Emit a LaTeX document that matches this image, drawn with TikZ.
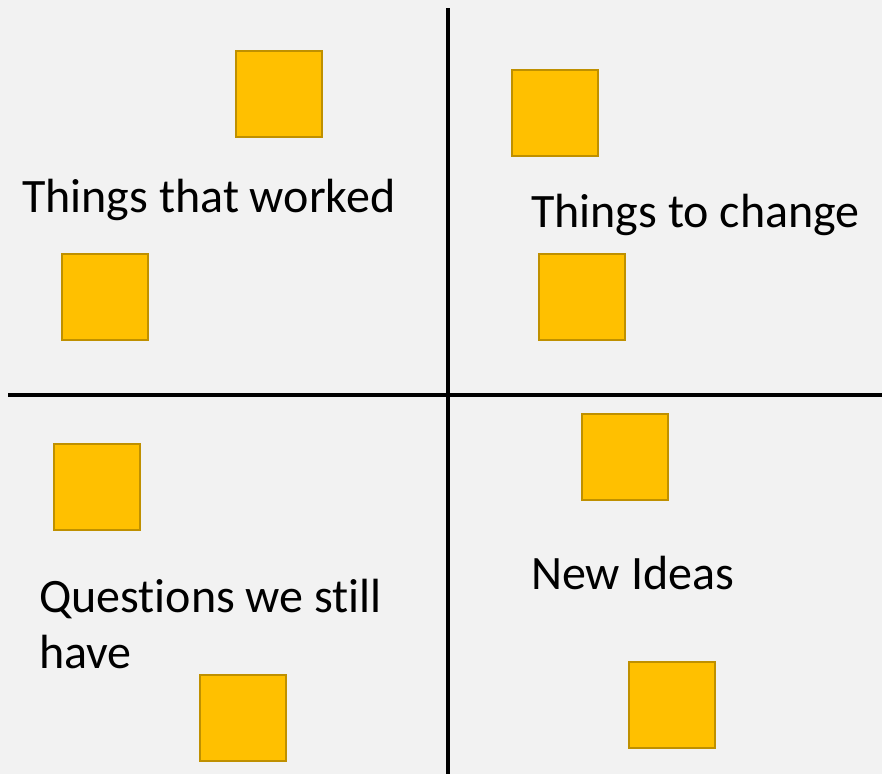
\documentclass[tikz,border=0pt]{standalone}
\usepackage{fontspec}
\setmainfont[Ligatures={NoCommon}]{Carlito}
\usepackage{xcolor}
\definecolor{board}{HTML}{F2F2F2}
\definecolor{note}{HTML}{FFC000}
\definecolor{noteedge}{HTML}{BF9000}
\tikzset{
  sticky/.style={draw=noteedge, line width=2pt, fill=note, minimum size=86pt, inner sep=0pt},
  heading/.style={anchor=west, inner sep=0pt, font=\fontsize{48}{56}\selectfont, align=left},
}

\begin{document}
\begin{tikzpicture}[x=1pt, y=-1pt]
		\fill[board] (0,0) rectangle (882,774);
		\useasboundingbox (0,0) rectangle (882,774);
		
		% quadrant lines
		\draw[line width=3.5pt] (448,8) -- (448,774);
		\draw[line width=3.5pt] (8,395) -- (882,395);
		
		% notes
		\node[sticky] (noteA) at (278.5,93.5) {};
		\node[sticky] (noteB) at (104.5,296.5) {};
		\node[sticky] (noteC) at (554.5,112.5) {};
		\node[sticky] (noteD) at (581.5,296.5) {};
		\node[sticky] (noteE) at (96.5,486.5) {};
		\node[sticky] (noteF) at (624.5,456.5) {};
		\node[sticky] (noteG) at (242.5,717.5) {};
		\node[sticky] (noteH) at (671.5,704.5) {};
		
		% labels
		\node[heading] (worked) at (22,200) {Things that worked};
		\node[heading] (change) at (531,215) {Things to change};
		\node[heading] (questions) at (39,624) {Questions we still\\have};
		\node[heading] (ideas) at (531,573) {New Ideas};
\end{tikzpicture}
\end{document}
